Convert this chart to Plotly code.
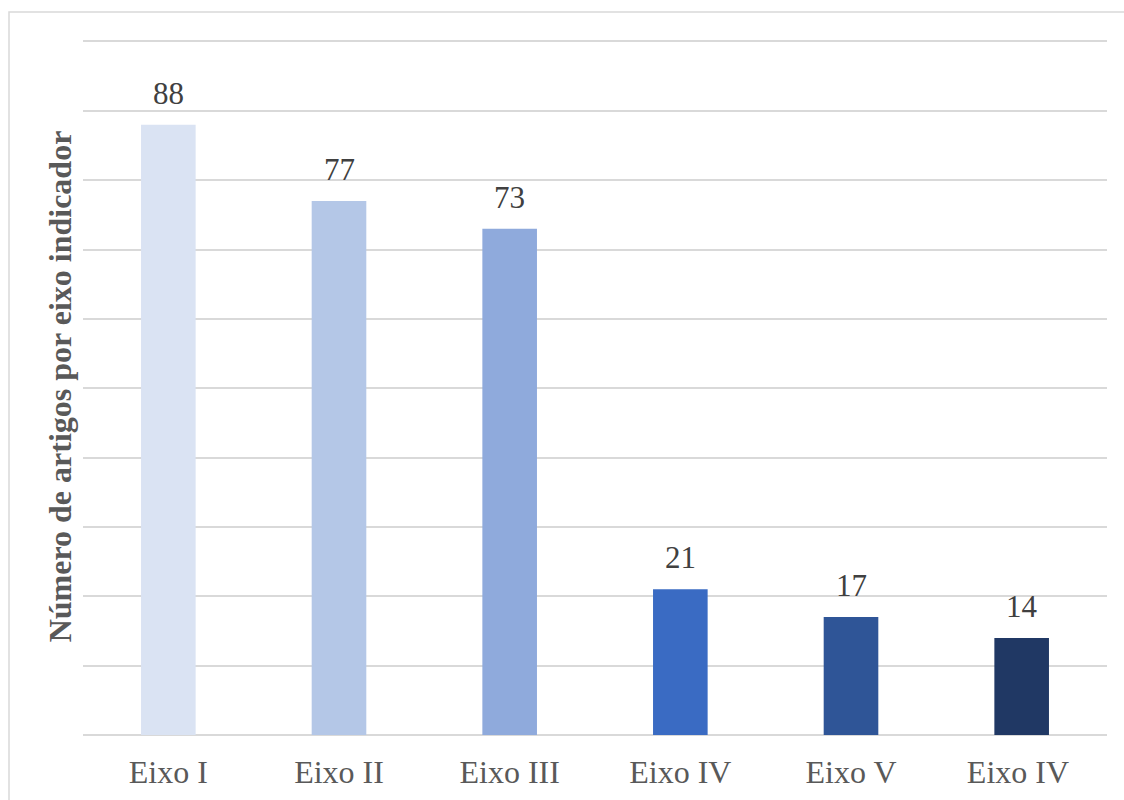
import plotly.graph_objects as go

categories = ["Eixo I", "Eixo II", "Eixo III", "Eixo IV", "Eixo V", "Eixo IV "]
values = [88, 77, 73, 21, 17, 14]
colors = ["#DAE3F3", "#B4C7E7", "#8FAADC", "#3A6BC3", "#2F5597", "#203864"]

SERIF = "Liberation Serif, Times New Roman, serif"

fig = go.Figure(go.Bar(
    x=categories, y=values, marker=dict(color=colors, line=dict(width=0)),
    width=0.32, hoverinfo="x+y",
))

for c, v in zip(categories, values):
    fig.add_annotation(x=c, y=v, text=str(v), showarrow=False, yanchor="bottom",
                       yshift=12, font=dict(family=SERIF, size=31, color="#404040"))

L, R, T, B = 83, 17, 38, 65
W, H = 1124, 800
pw, ph = W - L - R, H - T - B

fig.update_layout(
    width=W, height=H,
    margin=dict(l=L, r=R, t=T, b=B),
    paper_bgcolor="white", plot_bgcolor="white",
    font=dict(family=SERIF, color="#595959"),
    showlegend=False,
    xaxis=dict(tickfont=dict(family=SERIF, size=32, color="#595959"), showline=False,
               showgrid=False, ticks="outside", ticklen=9, automargin=False,
               tickcolor="rgba(0,0,0,0)"),
    yaxis=dict(range=[0, 100.5], tickvals=[0, 10, 20, 30, 40, 50, 60, 70, 80, 90, 100],
               showticklabels=False, showgrid=True, automargin=False,
               gridcolor="#D9D9D9", gridwidth=1.5, zeroline=True,
               zerolinecolor="#D9D9D9", zerolinewidth=1.5,
               title=dict(text="<b>Número de artigos por eixo indicador</b>",
                          font=dict(family=SERIF, size=32, color="#595959"), standoff=0)),
    shapes=[dict(type="rect", xref="paper", yref="paper",
                 x0=(9 - L) / pw, x1=(W + 6 - L) / pw,
                 y0=-(H + 6 - (H - B)) / ph, y1=1 + (T - 12) / ph,
                 line=dict(color="#D9D9D9", width=1.5), layer="below")],
)

fig.write_html("out.html")
